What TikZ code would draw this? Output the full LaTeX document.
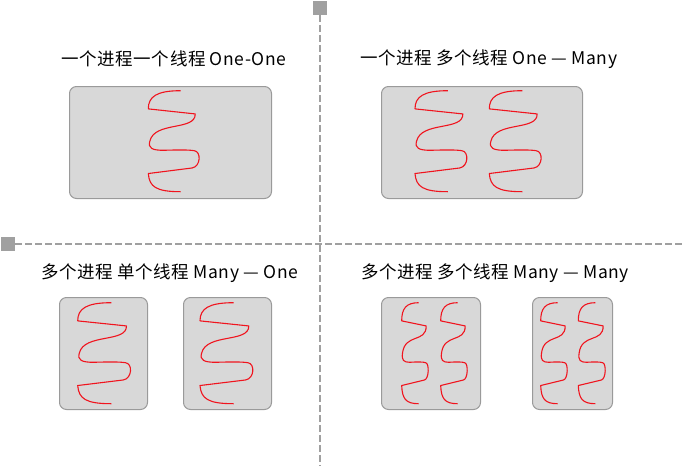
\documentclass[tikz,border=0pt]{standalone}
\usepackage{fontspec}
\newfontfamily\cjk[LetterSpace=3]{Noto Sans CJK SC}
\definecolor{boxfill}{HTML}{D8D8D8}
\definecolor{boxline}{HTML}{9A9A9A}
\definecolor{dashcol}{HTML}{A0A0A0}
\definecolor{thr}{HTML}{F0141E}
\tikzset{
  procbox/.style={draw=boxline, fill=boxfill, line width=1pt, rounded corners=7pt, inner sep=0pt, anchor=north west},
  sq/.style={fill=dashcol, draw=none, minimum size=14pt, inner sep=0pt},
  divider/.style={draw=dashcol, line width=2pt, dash pattern=on 7pt off 3pt},
  title/.style={font=\cjk\fontsize{17.5}{20}\selectfont, text=black, inner sep=0pt},
  thread/.pic={
    \draw[thr, line width=1.1pt, line join=round]
      (0.634,0) .. controls (0.16,0) and (0,0.06) .. (0,0.18)
      -- (0.92,0.23)
      .. controls (0.93,0.40) and (0.12,0.30) .. (0.03,0.50)
      .. controls (-0.01,0.57) and (0.08,0.59) .. (0.30,0.59)
      .. controls (0.6,0.585) and (0.8,0.585) .. (0.90,0.594)
      .. controls (1.04,0.60) and (1.03,0.75) .. (0.86,0.765)
      -- (0,0.82)
      .. controls (0.02,0.95) and (0.15,1.0) .. (0.634,1);
  }
}
\begin{document}
\begin{tikzpicture}[x=1pt,y=-1pt]
\useasboundingbox (0,0) rectangle (682,466);
% dividers
\node[sq] (sqtop) at (320,8) {};
\node[sq] (sqleft) at (8,244) {};
\coordinate (vend) at (320,466);
\coordinate (hend) at (682,244);
\draw[divider] (sqtop.south) -- (vend);
\draw[divider] (sqleft.east) -- (hend);
% titles
\node[title] (t1) at (174,59) {一个进程一个线程 One-One};
\node[title] (t2) at (489,59) {一个进程 多个线程 One — Many};
\node[title] (t3) at (170,273) {多个进程 单个线程 Many — One};
\node[title] (t4) at (495,273) {多个进程 多个线程 Many — Many};
% boxes
\node[procbox, minimum width=202pt, minimum height=112pt] (b1) at (69,86) {};
\node[procbox, minimum width=201pt, minimum height=112pt] (b2) at (381,86) {};
\node[procbox, minimum width=88pt, minimum height=112pt] (b3) at (59,297) {};
\node[procbox, minimum width=88pt, minimum height=112pt] (b4) at (183,297) {};
\node[procbox, minimum width=99pt, minimum height=112pt] (b5) at (381,297) {};
\node[procbox, minimum width=80pt, minimum height=112pt] (b6) at (532,297) {};
% threads
\pic[xscale=51, yscale=101] at (148.3,90.7) {thread};
\pic[xscale=52, yscale=101] at (415,90.7) {thread};
\pic[xscale=52, yscale=101] at (489.3,90.7) {thread};
\pic[xscale=53, yscale=101] at (77.7,302.7) {thread};
\pic[xscale=53, yscale=101] at (200,302.7) {thread};
\pic[xscale=26.6, yscale=101] at (401.7,302.7) {thread};
\pic[xscale=26.6, yscale=101] at (440.7,302.7) {thread};
\pic[xscale=26.6, yscale=101] at (540.7,302.7) {thread};
\pic[xscale=27, yscale=101] at (578.3,302.7) {thread};
\end{tikzpicture}
\end{document}
